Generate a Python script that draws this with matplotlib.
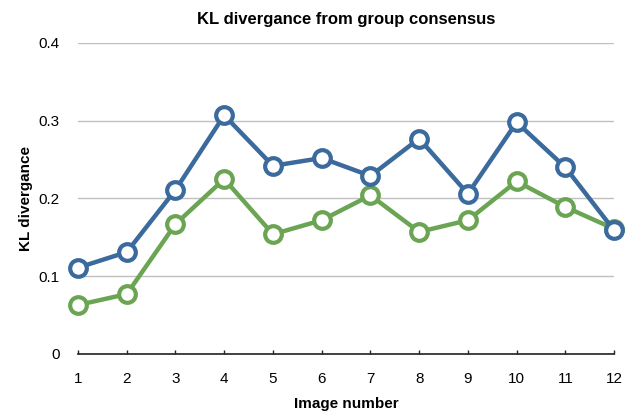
import matplotlib.pyplot as plt

# Значения с графика
images = [1, 2, 3, 4, 5, 6, 7, 8, 9, 10, 11, 12]
blue_vals = [0.111, 0.131, 0.211, 0.307, 0.242, 0.252, 0.229, 0.277, 0.206, 0.298, 0.240, 0.159]
green_vals = [0.063, 0.077, 0.167, 0.225, 0.154, 0.172, 0.204, 0.157, 0.172, 0.222, 0.189, 0.161]
y_ticks = [0, 0.1, 0.2, 0.3, 0.4]
y_labels = ['0', '0.1', '0.2', '0.3', '0.4']

plt.rcParams['font.family'] = ['Liberation Sans', 'DejaVu Sans']

fig = plt.figure(figsize=(6.26, 4.13), dpi=100)
ax = fig.add_axes([0.1246, 0.1429, 0.8564, 0.7531])

for vals, color in [(green_vals, '#6ba553'), (blue_vals, '#3b6a9d')]:
    ax.plot(images, vals, color=color, lw=3.2, marker='o', markersize=12,
            markerfacecolor='white', markeredgecolor=color, markeredgewidth=3.0,
            clip_on=False, zorder=3)

ax.set_xlim(1, 12)
ax.set_ylim(0, 0.4)
ax.set_xticks(images)
ax.set_yticks(y_ticks)
ax.set_yticklabels(y_labels)
ax.grid(axis='y', color='#c0c0c0', lw=1.0)
ax.set_axisbelow(True)

for s in ['top', 'right', 'left']:
    ax.spines[s].set_visible(False)
ax.spines['bottom'].set_color('#222222')
ax.spines['bottom'].set_linewidth(1.2)
ax.tick_params(axis='x', direction='in', length=3, width=1, colors='#222222',
               labelcolor='black', labelsize=11, pad=13)
ax.tick_params(axis='y', length=0, labelsize=11, pad=13)

ax.set_title('KL divergance from group consensus', fontsize=12, fontweight='bold', pad=14)
ax.set_xlabel('Image number', fontsize=11, fontweight='bold', labelpad=8)
ax.set_ylabel('KL divergance', fontsize=11, fontweight='bold', labelpad=4)

fig.savefig('out.png', dpi=100)
